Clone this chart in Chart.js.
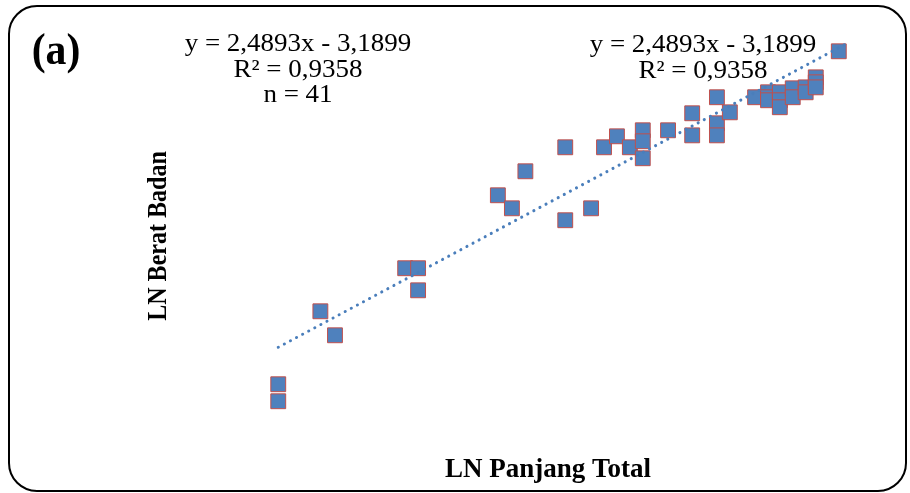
<!DOCTYPE html>
<html>
<head>
<meta charset="utf-8">
<script src="https://cdn.jsdelivr.net/npm/chart.js@4/dist/chart.umd.min.js"></script>
<style>
    html, body {
        margin: 0;
        padding: 0;
        background: #ffffff;
    }
    #wrap {
        width: 910px;
        height: 493px;
        position: relative;
    }
</style>
</head>
<body>
<div id="wrap"><canvas id="lwChart" width="910" height="493"></canvas></div>
<script>
// LN Panjang Total (x) vs LN Berat Badan (y), 41 fish
const lnPanjang = [
    2.300, 2.300, 2.375, 2.401, 2.526, 2.549, 2.549, 2.691, 2.716, 2.740,
    2.811, 2.811, 2.857, 2.880, 2.903, 2.926, 2.949, 2.949, 2.949, 2.994,
    3.037, 3.037, 3.081, 3.081, 3.081, 3.104, 3.149, 3.172, 3.172, 3.172,
    3.193, 3.193, 3.193, 3.216, 3.216, 3.239, 3.239, 3.257, 3.257, 3.257,
    3.298
];
const lnBerat = [
    2.229, 2.088, 2.834, 2.635, 3.191, 3.191, 3.008, 3.796, 3.688, 3.995,
    4.194, 3.589, 3.688, 4.194, 4.285, 4.194, 4.335, 4.244, 4.103, 4.335,
    4.476, 4.293, 4.609, 4.393, 4.293, 4.484, 4.609, 4.650, 4.609, 4.584,
    4.650, 4.584, 4.526, 4.683, 4.609, 4.691, 4.650, 4.774, 4.733, 4.691,
    4.990
];

// regression from the chart label
const slope = 2.4893;
const intercept = -3.1899;
const trendX = [2.300, 3.315];

const eqLines = ["y = 2,4893x - 3,1899", "R\u00B2 = 0,9358", "n = 41"];
const eqLines2 = ["y = 2,4893x - 3,1899", "R\u00B2 = 0,9358"];
const xTitle = "LN Panjang Total";
const yTitle = "LN Berat Badan";
const panelLabel = "(a)";

const points = lnPanjang.map((x, i) => ({ x: x, y: lnBerat[i] }));
const trendPoints = trendX.map((x) => ({ x: x, y: slope * x + intercept }));

// draw text stretched along its own direction by sx
function stretchText(ctx, text, x, y, sx, angle) {
    ctx.save();
    ctx.translate(x, y);
    if (angle) ctx.rotate(angle);
    ctx.scale(sx, 1);
    ctx.fillText(text, 0, 0);
    ctx.restore();
}

const decoPlugin = {
    id: "deco",
    beforeDraw(chart) {
        const ctx = chart.ctx;
        ctx.save();
        ctx.fillStyle = "#ffffff";
        ctx.fillRect(0, 0, chart.width, chart.height);
        ctx.strokeStyle = "#000000";
        ctx.lineWidth = 2;
        ctx.beginPath();
        ctx.roundRect(9, 6, 897, 485, 28);
        ctx.stroke();
        ctx.restore();
    },
    afterDraw(chart) {
        const ctx = chart.ctx;
        ctx.save();
        ctx.fillStyle = "#000000";
        ctx.textAlign = "center";

        ctx.textBaseline = "middle";
        ctx.font = "bold 44px 'Liberation Serif'";
        stretchText(ctx, panelLabel, 56, 53, 0.95);

        ctx.textBaseline = "alphabetic";
        ctx.font = "25px 'Liberation Serif'";
        eqLines.forEach((t, i) => stretchText(ctx, t, 298, 51 + i * 25.5, 1.08));
        eqLines2.forEach((t, i) => stretchText(ctx, t, 703, 52 + i * 26, 1.08));

        ctx.font = "bold 27px 'Liberation Serif'";
        stretchText(ctx, xTitle, 548, 477, 1.0);

        ctx.font = "bold 27px 'Liberation Serif'";
        stretchText(ctx, yTitle, 166, 236, 0.89, -Math.PI / 2);
        ctx.restore();
    }
};

new Chart(document.getElementById("lwChart"), {
    type: "scatter",
    data: {
        datasets: [
            {
                type: "line",
                label: "Trend",
                data: trendPoints,
                borderColor: "#4a7ebb",
                borderWidth: 3,
                borderDash: [0.1, 6.8],
                borderCapStyle: "round",
                pointRadius: 0,
                fill: false,
                order: 0,
                clip: false
            },
            {
                label: "Data",
                data: points,
                pointStyle: "rect",
                pointRadius: 10.5,
                backgroundColor: "#4f81bd",
                borderColor: "#c0504d",
                borderWidth: 1,
                order: 1,
                clip: false
            }
        ]
    },
    options: {
        responsive: false,
        animation: false,
        layout: {
            padding: { left: 194, right: 42, top: 32, bottom: 51 }
        },
        plugins: {
            legend: { display: false },
            tooltip: { enabled: false }
        },
        scales: {
            x: {
                type: "linear",
                display: false,
                min: 2.15,
                max: 3.35
            },
            y: {
                type: "linear",
                display: false,
                min: 1.75,
                max: 5.15
            }
        }
    },
    plugins: [decoPlugin]
});
</script>
</body>
</html>
